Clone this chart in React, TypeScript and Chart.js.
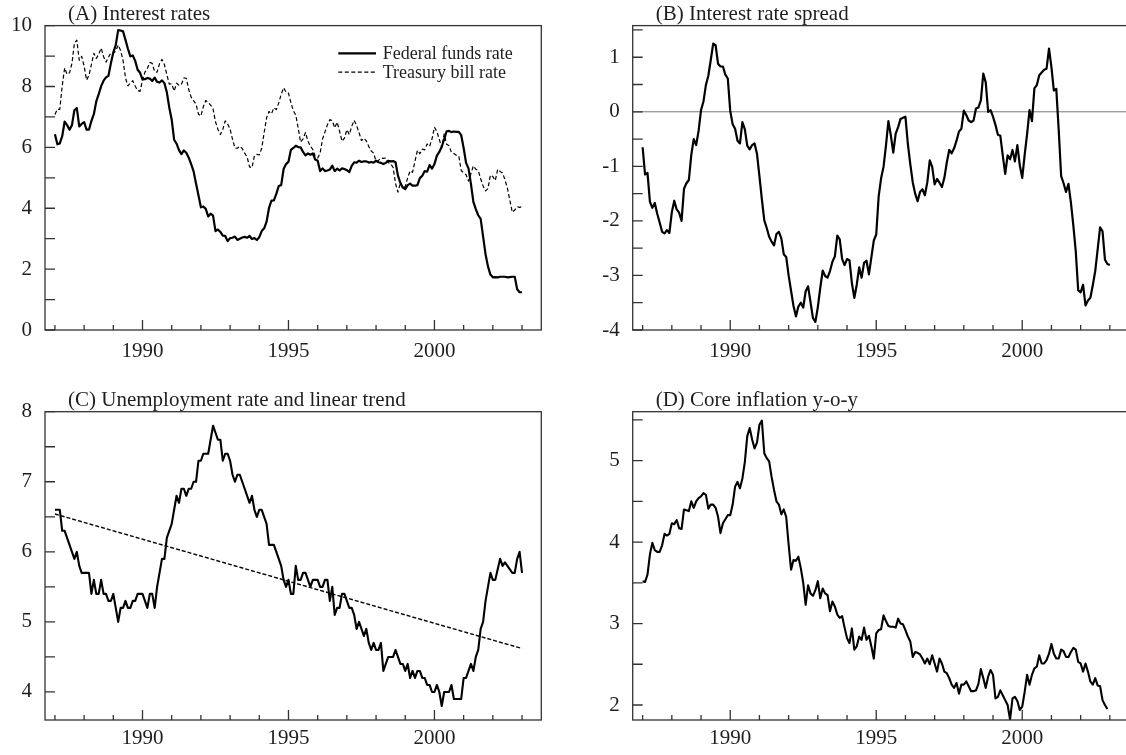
import React, { useEffect, useRef } from 'react';
import { Chart, registerables } from 'chart.js';

Chart.register(...registerables);

// ---------- data ----------
const START_YEAR = 1987; // monthly observations from Jan 1987
const X_MIN = 1986.66;
const X_MAX = 2003.66;
const YEAR_TICKS = [1987, 1988, 1989, 1990, 1991, 1992, 1993, 1994, 1995, 1996, 1997, 1998, 1999, 2000, 2001, 2002, 2003];
const YEAR_LABELS = [1990, 1995, 2000];

const TITLES = [
  '(A) Interest rates',
  '(B) Interest rate spread',
  '(C) Unemployment rate and linear trend',
  '(D) Core inflation y-o-y',
];
const LEGEND_LABELS = ['Federal funds rate', 'Treasury bill rate'];

const FED_FUNDS = [
  6.43, 6.10, 6.13, 6.37, 6.85, 6.73, 6.58, 6.73, 7.22, 7.29, 6.69, 6.77,
  6.83, 6.58, 6.58, 6.87, 7.09, 7.51, 7.75, 8.01, 8.19, 8.30, 8.35, 8.76,
  9.12, 9.36, 9.85, 9.84, 9.81, 9.53, 9.24, 8.99, 9.02, 8.84, 8.55, 8.45,
  8.23, 8.24, 8.28, 8.26, 8.18, 8.29, 8.15, 8.13, 8.20, 8.11, 7.81, 7.31,
  6.91, 6.25, 6.12, 5.91, 5.78, 5.90, 5.82, 5.66, 5.45, 5.21, 4.81, 4.43,
  4.03, 4.06, 3.98, 3.73, 3.82, 3.76, 3.25, 3.30, 3.22, 3.10, 3.09, 2.92,
  3.02, 3.03, 3.07, 2.96, 3.00, 3.04, 3.06, 3.03, 3.09, 2.99, 3.02, 2.96,
  3.05, 3.25, 3.34, 3.56, 4.01, 4.25, 4.26, 4.47, 4.73, 4.76, 5.29, 5.45,
  5.53, 5.92, 5.98, 6.05, 6.01, 6.00, 5.85, 5.74, 5.80, 5.76, 5.80, 5.60,
  5.56, 5.22, 5.31, 5.22, 5.24, 5.27, 5.40, 5.22, 5.30, 5.24, 5.31, 5.29,
  5.25, 5.19, 5.39, 5.51, 5.50, 5.56, 5.52, 5.54, 5.54, 5.50, 5.52, 5.50,
  5.56, 5.51, 5.49, 5.45, 5.49, 5.56, 5.54, 5.55, 5.51, 5.07, 4.83, 4.68,
  4.63, 4.76, 4.81, 4.74, 4.74, 4.76, 4.99, 5.07, 5.22, 5.20, 5.42, 5.30,
  5.45, 5.73, 5.85, 6.02, 6.27, 6.53, 6.54, 6.50, 6.52, 6.51, 6.51, 6.40,
  5.98, 5.49, 5.31, 4.80, 4.21, 3.97, 3.77, 3.65, 3.07, 2.49, 2.09, 1.82,
  1.73, 1.74, 1.73, 1.75, 1.75, 1.75, 1.73, 1.74, 1.75, 1.75, 1.34, 1.24,
  1.24,
];

const TREASURY = [
  7.08, 7.25, 7.25, 8.02, 8.61, 8.40, 8.45, 8.76, 9.42, 9.52, 8.86, 8.99,
  8.67, 8.21, 8.37, 8.72, 9.09, 8.92, 9.06, 9.26, 8.98, 8.80, 8.96, 9.11,
  9.09, 9.17, 9.36, 9.18, 8.86, 8.28, 8.02, 8.11, 8.19, 8.01, 7.87, 7.84,
  8.21, 8.47, 8.59, 8.79, 8.76, 8.48, 8.47, 8.75, 8.89, 8.72, 8.39, 8.08,
  8.09, 7.85, 8.11, 8.04, 8.07, 8.28, 8.27, 7.90, 7.65, 7.53, 7.42, 7.09,
  7.03, 7.34, 7.54, 7.48, 7.39, 7.26, 6.84, 6.59, 6.42, 6.59, 6.87, 6.77,
  6.60, 6.26, 5.98, 5.97, 6.04, 5.96, 5.81, 5.68, 5.36, 5.33, 5.72, 5.77,
  5.75, 5.97, 6.48, 6.97, 7.18, 7.10, 7.30, 7.24, 7.46, 7.74, 7.96, 7.81,
  7.78, 7.47, 7.20, 7.06, 6.63, 6.17, 6.28, 6.49, 6.20, 6.04, 5.93, 5.71,
  5.65, 5.81, 6.27, 6.51, 6.74, 6.91, 6.87, 6.64, 6.83, 6.53, 6.20, 6.30,
  6.58, 6.42, 6.69, 6.89, 6.71, 6.49, 6.22, 6.30, 6.21, 6.03, 5.88, 5.81,
  5.54, 5.57, 5.65, 5.64, 5.65, 5.50, 5.46, 5.34, 4.81, 4.53, 4.83, 4.65,
  4.72, 5.00, 5.23, 5.18, 5.54, 5.90, 5.79, 5.94, 5.92, 6.11, 6.03, 6.28,
  6.66, 6.52, 6.26, 5.99, 6.44, 6.10, 6.05, 5.83, 5.80, 5.74, 5.72, 5.24,
  5.16, 5.10, 4.89, 5.14, 5.39, 5.28, 5.24, 4.97, 4.73, 4.57, 4.65, 5.09,
  5.04, 4.91, 5.28, 5.21, 5.16, 4.93, 4.65, 4.26, 3.87, 3.94, 4.05, 4.03,
  4.05,
];

const SPREAD = [
  -0.65, -1.15, -1.12, -1.65, -1.76, -1.67, -1.87, -2.03, -2.20, -2.23, -2.17, -2.22,
  -1.84, -1.63, -1.79, -1.85, -2.00, -1.41, -1.31, -1.25, -0.79, -0.50, -0.61, -0.35,
  0.03, 0.19, 0.49, 0.66, 0.95, 1.25, 1.22, 0.88, 0.83, 0.83, 0.68, 0.61,
  0.02, -0.23, -0.31, -0.53, -0.58, -0.19, -0.32, -0.62, -0.69, -0.61, -0.58, -0.77,
  -1.18, -1.60, -1.99, -2.13, -2.29, -2.38, -2.45, -2.24, -2.20, -2.32, -2.61, -2.66,
  -3.00, -3.28, -3.56, -3.75, -3.57, -3.50, -3.59, -3.29, -3.20, -3.49, -3.78, -3.85,
  -3.58, -3.23, -2.91, -3.01, -3.04, -2.92, -2.75, -2.65, -2.27, -2.34, -2.70, -2.81,
  -2.70, -2.72, -3.14, -3.41, -3.17, -2.85, -3.04, -2.77, -2.73, -2.98, -2.67, -2.36,
  -2.25, -1.55, -1.22, -1.01, -0.62, -0.17, -0.43, -0.75, -0.40, -0.28, -0.13, -0.11,
  -0.09, -0.59, -0.96, -1.29, -1.50, -1.64, -1.47, -1.42, -1.53, -1.29, -0.89, -1.01,
  -1.33, -1.23, -1.30, -1.38, -1.21, -0.93, -0.70, -0.76, -0.67, -0.53, -0.36, -0.31,
  0.02, -0.06, -0.16, -0.19, -0.16, 0.06, 0.08, 0.21, 0.70, 0.54, 0.00, 0.03,
  -0.09, -0.24, -0.42, -0.44, -0.80, -1.14, -0.80, -0.87, -0.70, -0.91, -0.61, -0.98,
  -1.21, -0.79, -0.41, 0.03, -0.17, 0.43, 0.49, 0.67, 0.72, 0.77, 0.79, 1.16,
  0.82, 0.39, 0.42, -0.34, -1.18, -1.31, -1.47, -1.32, -1.66, -2.08, -2.56, -3.27,
  -3.31, -3.17, -3.55, -3.46, -3.41, -3.18, -2.92, -2.52, -2.12, -2.19, -2.71, -2.79,
  -2.81,
];

const UNEMPLOYMENT = [
  6.6, 6.6, 6.6, 6.3, 6.3, 6.2, 6.1, 6.0, 5.9, 6.0, 5.8, 5.7,
  5.7, 5.7, 5.7, 5.4, 5.6, 5.4, 5.4, 5.6, 5.4, 5.4, 5.3, 5.3,
  5.4, 5.2, 5.0, 5.2, 5.2, 5.3, 5.2, 5.2, 5.3, 5.3, 5.4, 5.4,
  5.4, 5.3, 5.2, 5.4, 5.4, 5.2, 5.5, 5.7, 5.9, 5.9, 6.2, 6.3,
  6.4, 6.6, 6.8, 6.7, 6.9, 6.9, 6.8, 6.9, 6.9, 7.0, 7.0, 7.3,
  7.3, 7.4, 7.4, 7.4, 7.6, 7.8, 7.7, 7.6, 7.6, 7.3, 7.4, 7.4,
  7.3, 7.1, 7.0, 7.1, 7.1, 7.0, 6.9, 6.8, 6.7, 6.8, 6.6, 6.5,
  6.6, 6.6, 6.5, 6.4, 6.1, 6.1, 6.1, 6.0, 5.9, 5.8, 5.6, 5.5,
  5.6, 5.4, 5.4, 5.8, 5.6, 5.6, 5.7, 5.7, 5.6, 5.5, 5.6, 5.6,
  5.6, 5.5, 5.5, 5.6, 5.6, 5.3, 5.5, 5.1, 5.2, 5.2, 5.4, 5.4,
  5.3, 5.2, 5.2, 5.1, 4.9, 5.0, 4.9, 4.8, 4.9, 4.7, 4.6, 4.7,
  4.6, 4.6, 4.7, 4.3, 4.4, 4.5, 4.5, 4.5, 4.6, 4.5, 4.4, 4.4,
  4.3, 4.4, 4.2, 4.3, 4.2, 4.3, 4.3, 4.2, 4.2, 4.1, 4.1, 4.0,
  4.0, 4.1, 4.0, 3.8, 4.0, 4.0, 4.0, 4.1, 3.9, 3.9, 3.9, 3.9,
  4.2, 4.2, 4.3, 4.4, 4.3, 4.5, 4.6, 4.9, 5.0, 5.3, 5.5, 5.7,
  5.6, 5.6, 5.75, 5.9, 5.8, 5.85, 5.8, 5.75, 5.7, 5.7, 5.9, 6.0,
  5.7,
];

const TREND_YEARS = [1987, 2003];
const TREND = [6.54, 4.62];

const CORE_INFLATION = [
  3.52, 3.51, 3.6, 3.85, 3.99, 3.9, 3.88, 3.88, 3.96, 4.1, 4.08, 4.1,
  4.23, 4.22, 4.27, 4.17, 4.16, 4.4, 4.39, 4.38, 4.5, 4.42, 4.5, 4.54,
  4.56, 4.6, 4.58, 4.41, 4.46, 4.46, 4.42, 4.31, 4.11, 4.23, 4.28, 4.33,
  4.33, 4.46, 4.68, 4.74, 4.66, 4.78, 4.98, 5.3, 5.4, 5.26, 5.15, 5.22,
  5.44, 5.49, 5.09, 5.03, 4.99, 4.8, 4.64, 4.5, 4.46, 4.34, 4.4, 4.31,
  3.97, 3.66, 3.78, 3.77, 3.82, 3.68, 3.5, 3.23, 3.47, 3.37, 3.34, 3.41,
  3.52, 3.31, 3.43, 3.37, 3.35, 3.15, 3.27, 3.21, 3.11, 3.07, 3.09, 2.95,
  2.82, 2.76, 2.94, 2.68, 2.72, 2.84, 2.8, 2.95, 2.8, 2.85, 2.72, 2.57,
  2.88, 2.92, 2.93, 3.1, 3.03, 2.97, 2.96, 2.96, 2.95, 3.06, 3.0, 2.99,
  2.92, 2.84, 2.78, 2.59, 2.65, 2.64, 2.62, 2.57, 2.51, 2.57, 2.5, 2.61,
  2.51, 2.41, 2.57, 2.51, 2.41, 2.39, 2.33, 2.25, 2.21, 2.27, 2.14, 2.25,
  2.25, 2.29, 2.23, 2.17, 2.17, 2.18, 2.26, 2.44, 2.33, 2.21, 2.35, 2.43,
  2.37, 2.08, 2.1, 2.18, 2.12, 2.06, 2.0, 1.82, 2.08, 2.1, 2.05, 1.94,
  1.98, 2.16, 2.37, 2.25, 2.37, 2.45, 2.47, 2.61, 2.51, 2.51, 2.55, 2.63,
  2.75, 2.63, 2.57, 2.57, 2.68, 2.66, 2.59, 2.59, 2.65, 2.7, 2.68, 2.53,
  2.51, 2.41, 2.51, 2.41, 2.29, 2.25, 2.33, 2.24, 2.23, 2.06, 2.0, 1.95,
];

const Y_TICKS_A = [0, 1, 2, 3, 4, 5, 6, 7, 8, 9, 10];
const Y_LABELS_A = [0, 2, 4, 6, 8, 10];
const Y_TICKS_B = [-4, -3.5, -3, -2.5, -2, -1.5, -1, -0.5, 0, 0.5, 1, 1.5];
const Y_LABELS_B = [-4, -3, -2, -1, 0, 1];
const Y_TICKS_C = [4, 4.5, 5, 5.5, 6, 6.5, 7, 7.5, 8];
const Y_LABELS_C = [4, 5, 6, 7, 8];
const Y_TICKS_D = [2, 2.5, 3, 3.5, 4, 4.5, 5, 5.5];
const Y_LABELS_D = [2, 3, 4, 5];

// ---------- styling ----------
const SERIF = '"Liberation Serif", "Times New Roman", Times, serif';
const TEXT = '#1e1e1e';
const FRAME = '#333';
const LINE = '#000';

const monthly = (vals: number[]) => vals.map((v, i) => ({ x: START_YEAR + i / 12, y: v }));

type Spec = {
  left: number; top: number; width: number; height: number;
  axisWidth: number; padTop: number; padRight: number; xAxisHeight: number; xLabelPad: number;
  yMin: number; yMax: number; yTicks: number[]; yLabels: number[];
  title: string; datasets: any[]; legend?: boolean; zeroLine?: boolean;
};

function Panel({ spec }: { spec: Spec }) {
  const ref = useRef<HTMLCanvasElement>(null);
  useEffect(() => {
    const canvas = ref.current;
    if (!canvas) return;
    const framePlugin = {
      id: 'frameDecor',
      beforeDatasetsDraw(chart: any) {
        if (!spec.zeroLine) return;
        const { ctx, chartArea: a, scales } = chart;
        const y = scales.y.getPixelForValue(0);
        ctx.save();
        ctx.strokeStyle = '#777';
        ctx.lineWidth = 1;
        ctx.beginPath();
        ctx.moveTo(a.left, y);
        ctx.lineTo(a.right, y);
        ctx.stroke();
        ctx.restore();
      },
      afterDraw(chart: any) {
        const { ctx, chartArea: a, scales } = chart;
        ctx.save();
        ctx.strokeStyle = FRAME;
        ctx.lineWidth = 1.3;
        ctx.setLineDash([]);
        ctx.strokeRect(a.left, a.top, a.right - a.left, a.bottom - a.top);
        ctx.beginPath();
        for (const t of spec.yTicks) {
          const y = scales.y.getPixelForValue(t);
          ctx.moveTo(a.left, y);
          ctx.lineTo(a.left + 10, y);
        }
        for (const t of YEAR_TICKS) {
          const x = scales.x.getPixelForValue(t);
          const len = YEAR_LABELS.includes(t) ? 10 : 5;
          ctx.moveTo(x, a.bottom);
          ctx.lineTo(x, a.bottom - len);
        }
        ctx.stroke();
        // title
        ctx.fillStyle = TEXT;
        ctx.font = `21px ${SERIF}`;
        ctx.textAlign = 'left';
        ctx.textBaseline = 'alphabetic';
        ctx.fillText(spec.title, a.left + 23, a.top - 6);
        // legend
        if (spec.legend) {
          const lx0 = a.left + 293.3;
          const lx1 = a.left + 331;
          const tx = a.left + 337.7;
          const rows = [a.top + 27.7, a.top + 46.5];
          ctx.font = `18px ${SERIF}`;
          ctx.textBaseline = 'middle';
          spec.datasets.forEach((ds: any, i: number) => {
            ctx.strokeStyle = LINE;
            ctx.lineWidth = ds.borderWidth;
            ctx.setLineDash(ds.borderDash || []);
            ctx.beginPath();
            ctx.moveTo(lx0, rows[i]);
            ctx.lineTo(lx1, rows[i]);
            ctx.stroke();
            ctx.fillText(ds.label, tx, rows[i] + 1);
          });
        }
        ctx.restore();
      },
    };
    const tickFont = { size: 21, family: SERIF };
    const chart = new Chart(canvas, {
      type: 'line',
      data: { datasets: spec.datasets },
      options: {
        animation: false,
        responsive: false,
        devicePixelRatio: 1,
        layout: { padding: { left: 0, top: spec.padTop, right: spec.padRight, bottom: 0 } },
        plugins: {
          legend: { display: false },
          title: { display: false },
          tooltip: { enabled: false },
        },
        elements: { point: { radius: 0 }, line: { tension: 0, borderJoinStyle: 'round' } },
        scales: {
          x: {
            type: 'linear',
            min: X_MIN,
            max: X_MAX,
            afterBuildTicks: (s: any) => { s.ticks = YEAR_TICKS.map((v) => ({ value: v })); },
            afterFit: (s: any) => { s.height = spec.xAxisHeight; },
            ticks: {
              autoSkip: false, maxRotation: 0, minRotation: 0, padding: spec.xLabelPad,
              color: TEXT, font: tickFont,
              callback: (v: any) => (YEAR_LABELS.includes(v) ? String(v) : ''),
            },
            grid: { display: false, drawTicks: false },
            border: { display: false },
          },
          y: {
            type: 'linear',
            min: spec.yMin,
            max: spec.yMax,
            afterBuildTicks: (s: any) => { s.ticks = spec.yTicks.map((v) => ({ value: v })); },
            afterFit: (s: any) => { s.width = spec.axisWidth; },
            ticks: {
              autoSkip: false, padding: 13, color: TEXT, font: tickFont,
              callback: (v: any) => (spec.yLabels.includes(v) ? String(v) : ''),
            },
            grid: { display: false, drawTicks: false },
            border: { display: false },
          },
        },
      } as any,
      plugins: [framePlugin],
    });
    return () => chart.destroy();
  }, []);
  return (
    <canvas
      ref={ref}
      width={spec.width}
      height={spec.height}
      style={{ position: 'absolute', left: spec.left, top: spec.top, width: spec.width, height: spec.height }}
    />
  );
}

const specs: Spec[] = [
  {
    left: 0, top: 0, width: 563, height: 377, axisWidth: 45, padTop: 22.3, padRight: 21.7, xAxisHeight: 47, xLabelPad: 9,
    yMin: 0, yMax: 10, yTicks: Y_TICKS_A, yLabels: Y_LABELS_A, title: TITLES[0], legend: true,
    datasets: [
      { label: LEGEND_LABELS[0], data: monthly(FED_FUNDS), borderColor: LINE, borderWidth: 2.2 },
      { label: LEGEND_LABELS[1], data: monthly(TREASURY), borderColor: LINE, borderWidth: 1.2, borderDash: [4, 2.5] },
    ],
  },
  {
    left: 563, top: 0, width: 600, height: 377, axisWidth: 69.7, padTop: 22.3, padRight: 33.9, xAxisHeight: 47, xLabelPad: 9,
    yMin: -4, yMax: 1.58, yTicks: Y_TICKS_B, yLabels: Y_LABELS_B, title: TITLES[1], zeroLine: true,
    datasets: [
      { label: 'Spread', data: monthly(SPREAD), borderColor: LINE, borderWidth: 2.2 },
    ],
  },
  {
    left: 0, top: 377, width: 563, height: 378, axisWidth: 45, padTop: 34.7, padRight: 21.7, xAxisHeight: 35, xLabelPad: 5.5,
    yMin: 3.6, yMax: 8.0, yTicks: Y_TICKS_C, yLabels: Y_LABELS_C, title: TITLES[2],
    datasets: [
      { label: 'Unemployment rate', data: monthly(UNEMPLOYMENT), borderColor: LINE, borderWidth: 2.1 },
      {
        label: 'Linear trend', data: TREND_YEARS.map((x, i) => ({ x, y: TREND[i] })),
        borderColor: LINE, borderWidth: 1.4, borderDash: [4, 2],
      },
    ],
  },
  {
    left: 563, top: 377, width: 600, height: 378, axisWidth: 69.7, padTop: 34.7, padRight: 33.9, xAxisHeight: 35, xLabelPad: 5.5,
    yMin: 1.816, yMax: 5.6, yTicks: Y_TICKS_D, yLabels: Y_LABELS_D, title: TITLES[3],
    datasets: [
      { label: 'Core inflation', data: monthly(CORE_INFLATION), borderColor: LINE, borderWidth: 2.1 },
    ],
  },
];

export default function App() {
  return (
    <div style={{ position: 'absolute', left: 0, top: 0, width: 1126, height: 755, overflow: 'hidden', background: '#fff' }}>
      {specs.map((s, i) => (
        <Panel key={i} spec={s} />
      ))}
    </div>
  );
}
